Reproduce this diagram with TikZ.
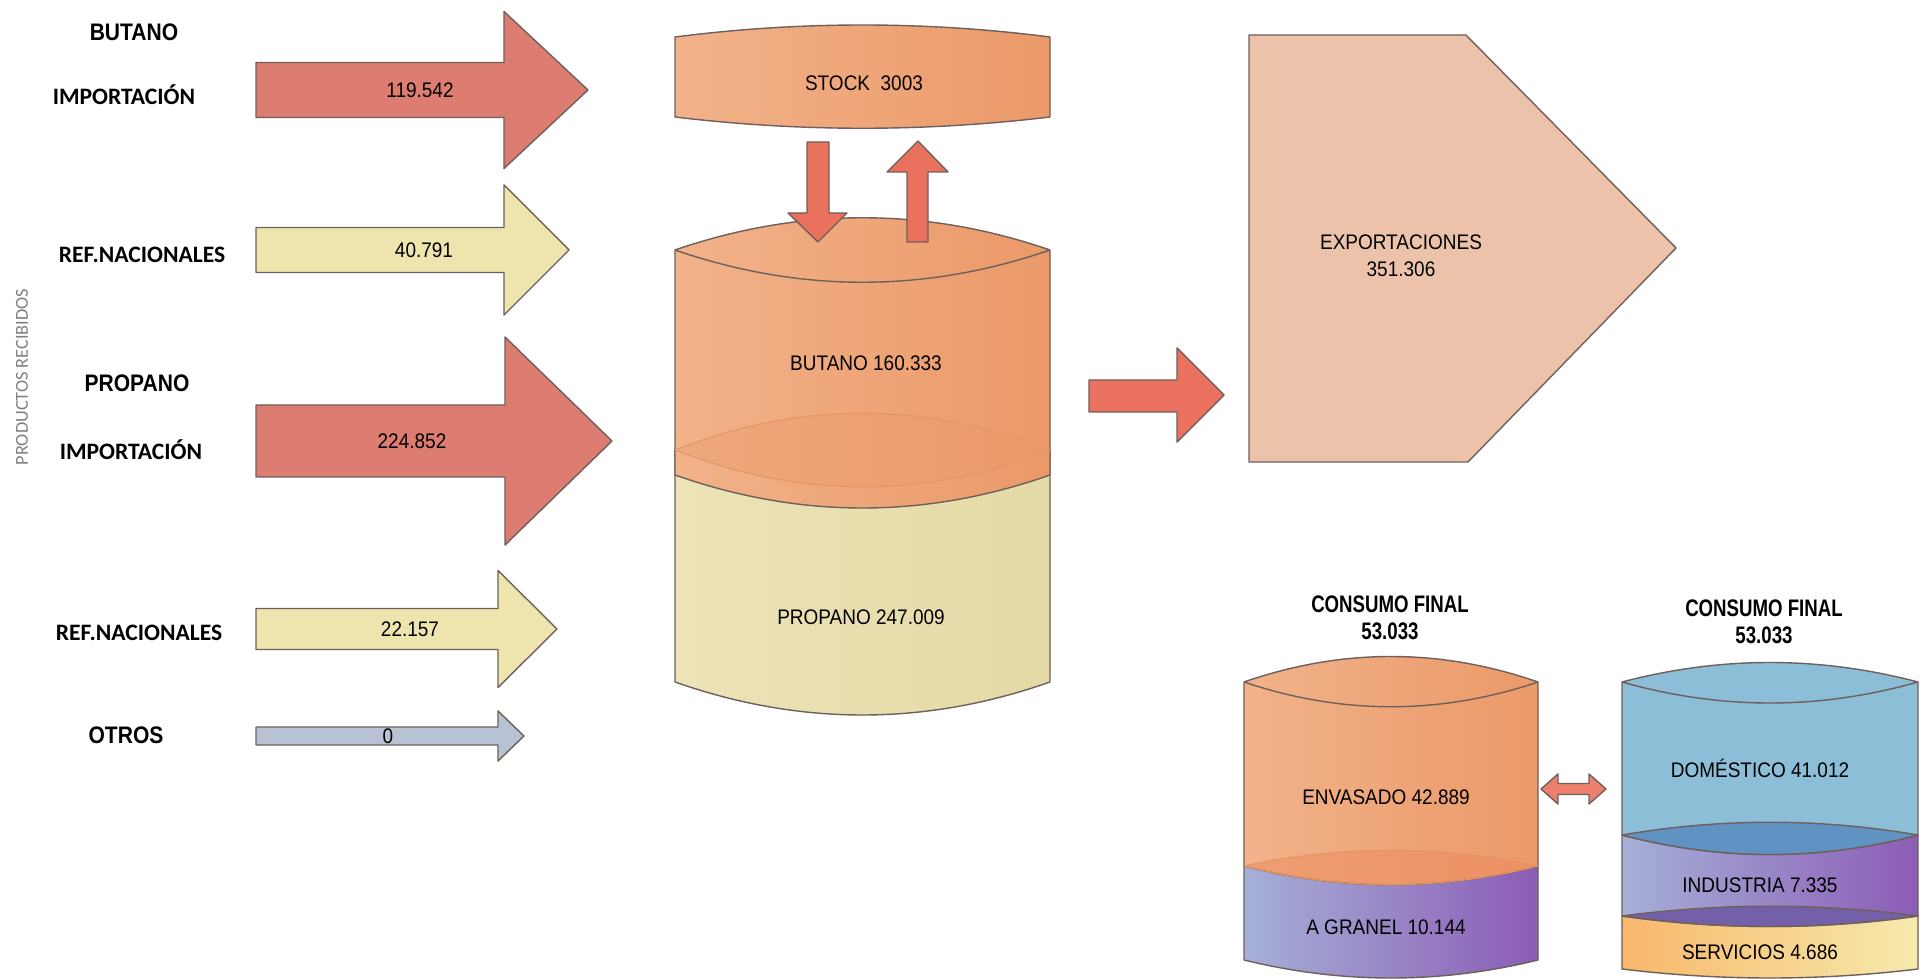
\documentclass[tikz,border=0pt]{standalone}
\usepackage{fontspec}
\setmainfont{Liberation Sans}
\newfontfamily\narrowfont[FakeStretch=0.9]{Liberation Sans}
\newfontfamily\headfont[FakeStretch=0.88]{Liberation Sans}
\newfontfamily\consfont[FakeStretch=0.78]{Liberation Sans}
\newfontfamily\calfont{Carlito}
\usetikzlibrary{positioning}
\definecolor{impred}{RGB}{221,124,112}
\definecolor{hotred}{RGB}{234,113,93}
\definecolor{yel}{RGB}{238,228,174}
\definecolor{otr}{RGB}{184,194,210}
\definecolor{outl}{RGB}{110,96,90}
\definecolor{orL}{RGB}{242,178,138}
\definecolor{orR}{RGB}{235,153,104}
\definecolor{propL}{RGB}{236,227,184}
\definecolor{propR}{RGB}{228,218,166}
\definecolor{expo}{RGB}{236,195,170}
\definecolor{purL}{RGB}{165,176,215}
\definecolor{purR}{RGB}{140,92,182}
\definecolor{blu}{RGB}{140,190,216}
\definecolor{bluD}{RGB}{96,146,196}
\definecolor{purD}{RGB}{116,96,168}
\definecolor{serL}{RGB}{248,184,108}
\definecolor{serR}{RGB}{246,234,172}

\begin{document}
\begin{tikzpicture}[x=0.01cm,y=-0.01cm,line join=round]
\tikzstyle{shp}=[draw=outl,line width=0.4pt]
\tikzstyle{val}=[font=\narrowfont\fontsize{6}{7.7}\selectfont,inner sep=0pt,align=center]
\tikzstyle{hed}=[font=\headfont\bfseries\fontsize{6.8}{8}\selectfont,inner sep=0pt]
\tikzstyle{cons}=[font=\consfont\bfseries\fontsize{6.8}{7.7}\selectfont,inner sep=0pt,align=center]
\tikzstyle{cal}=[font=\calfont\bfseries\fontsize{6.7}{8}\selectfont,inner sep=0pt]
\fill[white] (0,0) rectangle (1923,979);
\useasboundingbox (0,0) rectangle (1923,979);
% left labels
\node[hed] (butT) at (134,32) {BUTANO};
\node[cal] (impB) at (124,95) {IMPORTACIÓN};
\node[cal] (refB) at (142,255) {REF.NACIONALES};
\node[font=\calfont\fontsize{5.2}{6}\selectfont,text=gray,rotate=90,inner sep=0pt] (prod) at (22,377) {PRODUCTOS RECIBIDOS};
\node[hed] (proT) at (137,383) {PROPANO};
\node[cal] (impP) at (131,450) {IMPORTACIÓN};
\node[cal] (refP) at (139,633) {REF.NACIONALES};
\node[hed] (otr) at (126,735) {OTROS};
% input arrows
\foreach \n/\y/\hx/\tx/\s/\h/\c/\v/\lx in {ib/90/504/588/27.5/78.5/impred/119.542/420, rb/250/504/569/22.5/65/yel/40.791/424, ip/441/505/612/36/104/impred/224.852/412, rp/629/498/557/20.5/58.5/yel/22.157/410, ot/736/498/524/9/25/otr/0/388}{
  \draw[shp,fill=\c] (256,\y-\s) -- (\hx,\y-\s) -- (\hx,\y-\h) -- (\tx,\y) -- (\hx,\y+\h) -- (\hx,\y+\s) -- (256,\y+\s) -- cycle;
  \node[val] (\n) at (\lx,\y) {\v};
}
% stock
\draw[shp,left color=orL,right color=orR] (675,37) .. controls (800,21) and (925,21) .. (1050,37) -- (1050,117) .. controls (925,132) and (800,132) .. (675,117) -- cycle;
\node[val] (stock) at (864,83) {STOCK\ \ 3003};
% propane and butane tank
\draw[shp,left color=propL,right color=propR] (675,450) .. controls (800,401) and (925,401) .. (1050,450) -- (1050,682) .. controls (925,726) and (800,726) .. (675,682) -- cycle;
\draw[shp,left color=orL,right color=orR] (675,250) .. controls (800,207) and (925,207) .. (1050,250) -- (1050,475) .. controls (925,519) and (800,519) .. (675,475) -- cycle;
\draw[draw=orR!85!brown,line width=0.3pt,fill=orR,fill opacity=0.35] (675,450) .. controls (800,401) and (925,401) .. (1050,450) .. controls (925,499) and (800,499) .. (675,450);
\draw[shp] (675,250) .. controls (800,293) and (925,293) .. (1050,250);
\node[val] (but) at (866,363) {BUTANO 160.333};
\node[val] (pro) at (861,617) {PROPANO 247.009};
% stock arrows
\draw[shp,fill=hotred] (807,142) -- (829,142) -- (829,213) -- (847,213) -- (818,242) -- (788,213) -- (807,213) -- cycle;
\draw[shp,fill=hotred] (907,242) -- (907,172) -- (887,172) -- (918,141) -- (948,172) -- (928,172) -- (928,242) -- cycle;
% exports
\draw[shp,fill=hotred] (1089,380) -- (1177,380) -- (1177,348) -- (1224,395) -- (1177,442) -- (1177,412) -- (1089,412) -- cycle;
\draw[shp,fill=expo] (1249,35) -- (1466,35) -- (1676,248) -- (1468,462) -- (1249,462) -- cycle;
\node[val] (exp) at (1401,256) {EXPORTACIONES\\351.306};
% final consumption by format
\node[cons] (consA) at (1390,618) {CONSUMO FINAL\\53.033};
\draw[shp,left color=purL,right color=purR] (1244,866) .. controls (1342,845) and (1440,845) .. (1538,866) -- (1538,960) .. controls (1440,984) and (1342,984) .. (1244,960) -- cycle;
\draw[shp,left color=orL,right color=orR] (1244,682) .. controls (1342,648) and (1440,648) .. (1538,682) -- (1538,866) .. controls (1440,891) and (1342,891) .. (1244,866) -- cycle;
\draw[draw=orR!85!brown,line width=0.3pt,fill=orR!90!red,fill opacity=0.5] (1244,866) .. controls (1342,845) and (1440,845) .. (1538,866) .. controls (1440,891) and (1342,891) .. (1244,866);
\draw[shp] (1244,682) .. controls (1342,715) and (1440,715) .. (1538,682);
\node[val] (env) at (1386,797) {ENVASADO 42.889};
\node[val] (gra) at (1386,927) {A GRANEL 10.144};
% double arrow
\draw[shp,fill=hotred!90!white] (1541,789) -- (1558,774) -- (1558,783.5) -- (1589,783.5) -- (1589,774) -- (1606,789) -- (1589,804) -- (1589,794.5) -- (1558,794.5) -- (1558,804) -- cycle;
% final consumption by sector
\node[cons] (consB) at (1764,622) {CONSUMO FINAL\\53.033};
\draw[shp,left color=serL,right color=serR] (1622,916) .. controls (1721,903) and (1819,903) .. (1918,916) -- (1918,969) .. controls (1819,981) and (1721,981) .. (1622,969) -- cycle;
\draw[shp,left color=purL,right color=purR] (1622,835) .. controls (1721,818) and (1819,818) .. (1918,835) -- (1918,916) .. controls (1819,930) and (1721,930) .. (1622,916) -- cycle;
\draw[shp,fill=purD] (1622,916) .. controls (1721,903) and (1819,903) .. (1918,916) .. controls (1819,930) and (1721,930) .. (1622,916);
\draw[shp,fill=blu] (1622,682) .. controls (1721,656) and (1819,656) .. (1918,682) -- (1918,835) .. controls (1819,861) and (1721,861) .. (1622,835) -- cycle;
\draw[shp,fill=bluD] (1622,835) .. controls (1721,818) and (1819,818) .. (1918,835) .. controls (1819,861) and (1721,861) .. (1622,835);
\draw[shp] (1622,682) .. controls (1721,710) and (1819,710) .. (1918,682);
\node[val] (dom) at (1760,768) {DOMÉSTICO 41.012};
\node[val] (ind) at (1760,885) {INDUSTRIA 7.335};
\node[val] (ser) at (1760,952) {SERVICIOS 4.686};
\end{tikzpicture}
\end{document}
